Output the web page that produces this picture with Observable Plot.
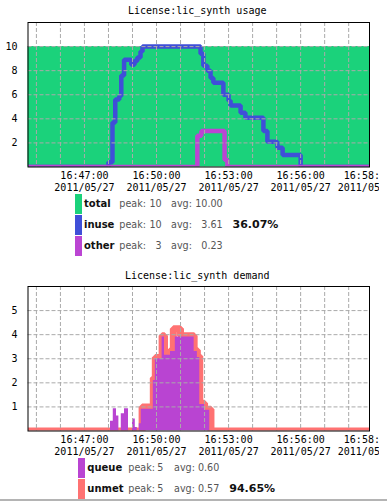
<!DOCTYPE html>
<html>
<head>
<meta charset="utf-8">
<script src="https://cdn.jsdelivr.net/npm/d3@7"></script>
<script src="https://cdn.jsdelivr.net/npm/@observablehq/plot@0.6"></script>
<style>
  html, body { margin: 0; padding: 0; background: white; }
  #root { position: relative; width: 387px; height: 501px; overflow: hidden; }
  .title { position: absolute; font-family: "DejaVu Sans Mono", monospace; font-size: 10px; line-height: 12px; white-space: nowrap; color: black; }
  .chart { position: absolute; left: 0; }
  .lg { position: absolute; font-family: "DejaVu Sans", sans-serif; white-space: nowrap; line-height: 20px; height: 20px; }
  .bar { position: absolute; width: 7px; height: 20px; }
</style>
</head>
<body>
<div id="root"></div>
<script>
// ---------- data ----------
const dateLabel = "2011/05/27";
const domainStart = "16:44:39";
const domainEnd = "16:58:52";
const gridMinutes = ["16:45:00","16:46:00","16:47:00","16:48:00","16:49:00","16:50:00","16:51:00",
  "16:52:00","16:53:00","16:54:00","16:55:00","16:56:00","16:57:00","16:58:00"];
const xLabelTimes = ["16:47:00","16:50:00","16:53:00","16:56:00","16:58:48"];

const usageTicks = [2, 4, 6, 8, 10];
const demandTicks = [1, 2, 3, 4, 5];

const totalTimes = ["16:44:39", "16:58:52"];
const totalValues = [10, 10];

const inuseTimes = ["16:44:39","16:48:00","16:48:10","16:48:17","16:48:27","16:48:32","16:48:39",
  "16:48:57","16:49:05","16:49:12","16:49:20","16:49:25","16:51:50","16:51:57","16:52:07",
  "16:52:15","16:52:22","16:52:47","16:53:00","16:53:05","16:53:30","16:53:42","16:54:27",
  "16:54:37","16:55:02","16:55:15","16:56:00","16:58:52"];
const inuseValues = [0,0.4,3.7,5.6,5.9,7.6,8.9,8.5,8.8,9.1,9.6,10,9.4,8.4,8.0,7.4,7.0,6.0,5.5,5.1,
  4.5,4.1,3.0,2.1,1.6,1.0,0,0];

const otherTimes = ["16:44:39","16:51:42","16:51:52","16:52:50","16:52:57","16:58:52"];
const otherValues = [0, 2.6, 3.0, 0.6, 0, 0];

const queueTimes = ["16:44:39","16:48:05","16:48:12","16:48:20","16:48:26","16:48:32","16:48:40",
  "16:48:50","16:49:00","16:49:07","16:49:12","16:49:17","16:49:22","16:49:52","16:49:57",
  "16:50:14","16:50:20","16:50:35","16:50:47","16:51:34","16:51:42","16:51:48","16:52:00",
  "16:52:13","16:58:52"];
const queueValues = [0,0.4,0.92,0.62,0,0.72,0.92,0,0.5,0.15,0,0.3,0.9,2.1,3.0,3.9,3.15,3.3,3.9,
  3.3,3.05,1.1,0.86,0,0];

const unmetTimes = ["16:44:39","16:49:24","16:49:52","16:49:57","16:50:14","16:50:20","16:50:35",
  "16:50:42","16:51:00","16:51:34","16:51:42","16:51:48","16:52:00","16:52:16","16:58:52"];
const unmetValues = [0,1.0,2.2,3.05,3.95,3.2,3.35,4.25,3.95,3.35,3.1,1.15,0.9,0,0];

const usageNames = ["total","inuse","other"];
const usagePeaks = ["10","10","3"];
const usageAvgs = ["10.00","3.61","0.23"];
const usagePct = ["","36.07%",""];
const usageColors = ["#1bd27b","#3f4fd8","#bb45d3"];

const demandNames = ["queue","unmet"];
const demandPeaks = ["5","5"];
const demandAvgs = ["0.60","0.57"];
const demandPct = ["","94.65%"];
const demandColors = ["#b944d2","#ff7272"];

// ---------- helpers ----------
const T = s => { const [h, m, sec] = s.split(":").map(Number); return new Date(Date.UTC(2011, 4, 27, h, m, sec)); };
const series = (times, values) => times.map((t, i) => ({t: T(t), v: values[i]}));
const fmt = d3.utcFormat("%H:%M:%S");
const mono = "DejaVu Sans Mono";
const gridOpts = {stroke: "#aaaaaa", strokeOpacity: 1, strokeDasharray: "4,2", strokeWidth: 1};

function chart(yMax, yTicks, marks) {
  return Plot.plot({
    width: 379, height: 178.5,
    marginLeft: 27.5, marginRight: 10, marginTop: 6, marginBottom: 28,
    style: {fontFamily: mono, fontSize: "10px", color: "black", overflow: "hidden", background: "transparent"},
    x: {type: "utc", domain: [T(domainStart), T(domainEnd)], axis: null},
    y: {domain: [0, yMax], axis: null},
    marks: [
      ...marks,
      Plot.gridX(gridMinutes.map(T), gridOpts),
      Plot.gridY(yTicks, gridOpts),
      Plot.frame({stroke: "black", strokeWidth: 1}),
      Plot.axisX({ticks: xLabelTimes.map(T), tickSize: 0, tickPadding: 3, label: null,
        tickFormat: d => fmt(d) + "\n" + dateLabel, lineHeight: 1.25,
        fontSize: 10, fontFamily: mono, fill: "black"}),
      Plot.axisY({ticks: yTicks, tickSize: 0, tickPadding: 10.5, label: null,
        tickFormat: d => String(d),
        fontSize: 10, fontFamily: mono, fill: "black"})
    ]
  });
}

const root = document.getElementById("root");
function addTitle(text, left, top) {
  const d = document.createElement("div");
  d.className = "title"; d.textContent = text;
  d.style.left = left + "px"; d.style.top = top + "px";
  root.appendChild(d);
}
function addChart(svg, top) {
  svg.classList.add("chart");
  svg.style.position = "absolute";
  svg.style.top = top + "px";
  svg.style.left = "0px";
  root.appendChild(svg);
}
function span(text, top, css) {
  const s = document.createElement("div");
  s.className = "lg"; s.textContent = text;
  s.style.top = top + "px";
  Object.assign(s.style, css);
  root.appendChild(s);
}
function legend(top, names, peaks, avgs, pcts, colors, c) {
  names.forEach((n, i) => {
    const y = top + i * 21;
    const b = document.createElement("div");
    b.className = "bar"; b.style.left = c.bar + "px"; b.style.top = y + "px"; b.style.background = colors[i];
    root.appendChild(b);
    span(n, y, {left: c.name + "px", fontWeight: "bold", fontSize: "10px", color: "#111"});
    span("peak:", y, {left: c.peak + "px", fontSize: "9.6px", color: "#555"});
    span(peaks[i], y, {right: (387 - c.peakR) + "px", fontSize: "9.6px", color: "#555"});
    span("avg:", y, {left: c.avg + "px", fontSize: "9.6px", color: "#555"});
    span(avgs[i], y, {right: (387 - c.avgR) + "px", fontSize: "9.6px", color: "#555"});
    if (pcts[i]) span(pcts[i], y, {left: c.pct + "px", fontWeight: "bold", fontSize: "11px", color: "#111"});
  });
}

// ---------- usage chart ----------
addTitle("License:lic_synth usage", 128, 5);
addChart(chart(12, usageTicks, [
  Plot.areaY(series(totalTimes, totalValues), {x: "t", y: "v", fill: usageColors[0], curve: "step-after"}),
  Plot.line(series(inuseTimes, inuseValues), {x: "t", y: "v", stroke: usageColors[1], strokeWidth: 4.5,
    curve: "step-after", strokeLinejoin: "miter", strokeLinecap: "butt", clip: true}),
  Plot.line(series(otherTimes, otherValues), {x: "t", y: "v", stroke: usageColors[2], strokeWidth: 4.5,
    curve: "step-after", strokeLinejoin: "miter", strokeLinecap: "butt", clip: true})
]), 16);
legend(194, usageNames, usagePeaks, usageAvgs, usagePct, usageColors,
  {bar: 75, name: 84, peak: 119.3, peakR: 161.7, avg: 171, avgR: 222.7, pct: 232.5});

// ---------- demand chart ----------
addTitle("License:lic_synth demand", 125, 269.5);
addChart(chart(6, demandTicks, [
  Plot.line(series(unmetTimes, unmetValues), {x: "t", y: "v", stroke: demandColors[1], strokeWidth: 7,
    curve: "step-after", strokeLinejoin: "miter", strokeLinecap: "butt", clip: true}),
  Plot.areaY(series(queueTimes, queueValues), {x: "t", y: "v", fill: demandColors[0], curve: "step-after", clip: true})
]), 280);
legend(458, demandNames, demandPeaks, demandAvgs, demandPct, demandColors,
  {bar: 78, name: 87.3, peak: 128.3, peakR: 163.3, avg: 174, avgR: 219.3, pct: 229.3});

// bottom rule
const rule = document.createElement("div");
Object.assign(rule.style, {position: "absolute", left: "0px", top: "499px", width: "387px", height: "2px", background: "#b4b4b4"});
root.appendChild(rule);
</script>
</body>
</html>
